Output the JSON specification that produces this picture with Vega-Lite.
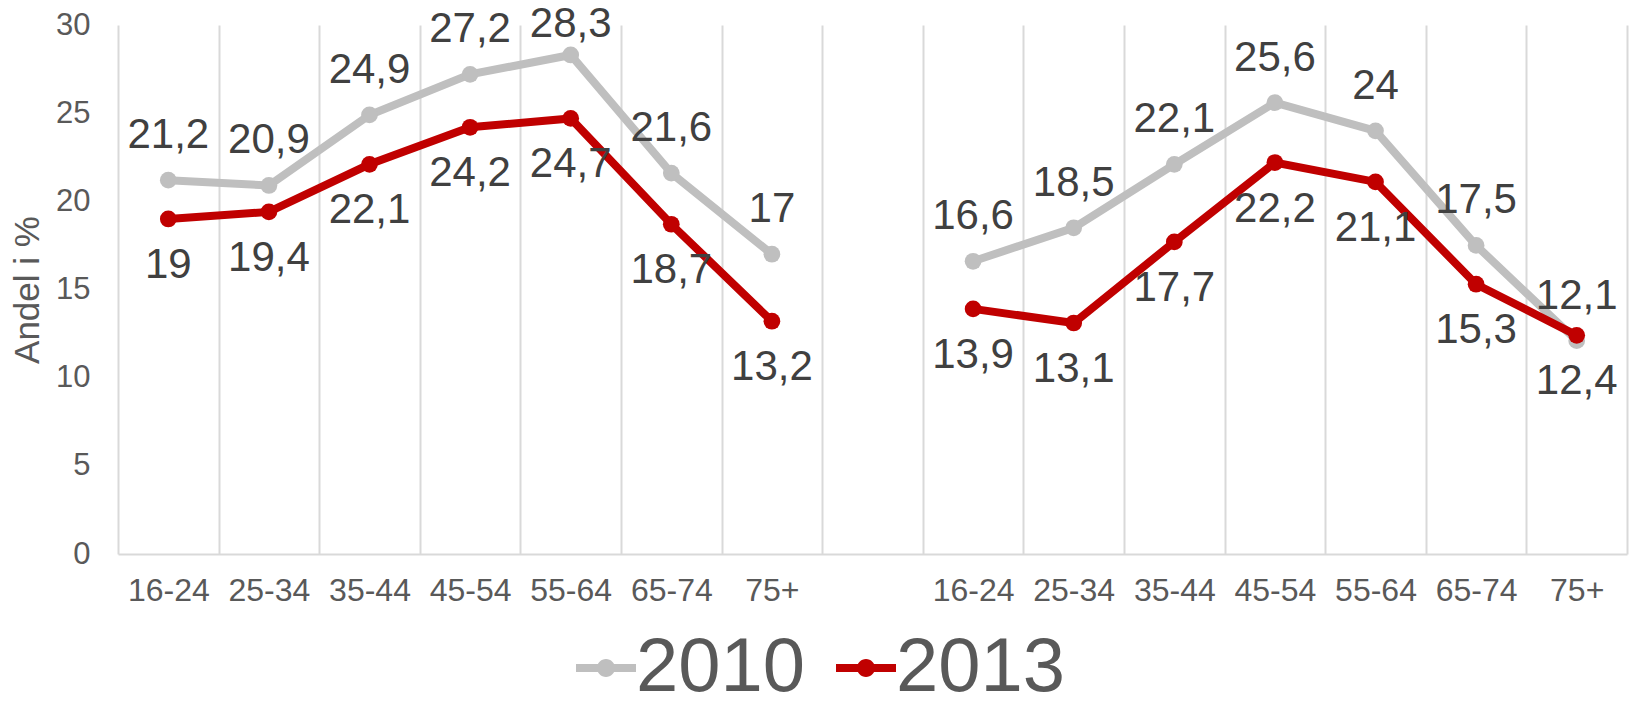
{
  "$schema": "https://vega.github.io/schema/vega-lite/v6.json",
  "width": 1509,
  "height": 529,
  "autosize": "none",
  "padding": {"left": 118, "top": 25, "right": 3, "bottom": 150},
  "config": {
    "font": "Liberation Sans",
    "view": {"stroke": null},
    "locale": {"number": {"decimal": ",", "thousands": " ", "grouping": [3], "currency": ["", " kr"]}}
  },
  "data": {
    "values": [
      {"cat": "L16-24", "panel": "L", "year": "2010", "value": 21.2},
      {"cat": "L25-34", "panel": "L", "year": "2010", "value": 20.9},
      {"cat": "L35-44", "panel": "L", "year": "2010", "value": 24.9},
      {"cat": "L45-54", "panel": "L", "year": "2010", "value": 27.2},
      {"cat": "L55-64", "panel": "L", "year": "2010", "value": 28.3},
      {"cat": "L65-74", "panel": "L", "year": "2010", "value": 21.6},
      {"cat": "L75+", "panel": "L", "year": "2010", "value": 17.0},
      {"cat": "R16-24", "panel": "R", "year": "2010", "value": 16.6},
      {"cat": "R25-34", "panel": "R", "year": "2010", "value": 18.5},
      {"cat": "R35-44", "panel": "R", "year": "2010", "value": 22.1},
      {"cat": "R45-54", "panel": "R", "year": "2010", "value": 25.6},
      {"cat": "R55-64", "panel": "R", "year": "2010", "value": 24.0},
      {"cat": "R65-74", "panel": "R", "year": "2010", "value": 17.5},
      {"cat": "R75+", "panel": "R", "year": "2010", "value": 12.1},
      {"cat": "L16-24", "panel": "L", "year": "2013", "value": 19.0},
      {"cat": "L25-34", "panel": "L", "year": "2013", "value": 19.4},
      {"cat": "L35-44", "panel": "L", "year": "2013", "value": 22.1},
      {"cat": "L45-54", "panel": "L", "year": "2013", "value": 24.2},
      {"cat": "L55-64", "panel": "L", "year": "2013", "value": 24.7},
      {"cat": "L65-74", "panel": "L", "year": "2013", "value": 18.7},
      {"cat": "L75+", "panel": "L", "year": "2013", "value": 13.2},
      {"cat": "R16-24", "panel": "R", "year": "2013", "value": 13.9},
      {"cat": "R25-34", "panel": "R", "year": "2013", "value": 13.1},
      {"cat": "R35-44", "panel": "R", "year": "2013", "value": 17.7},
      {"cat": "R45-54", "panel": "R", "year": "2013", "value": 22.2},
      {"cat": "R55-64", "panel": "R", "year": "2013", "value": 21.1},
      {"cat": "R65-74", "panel": "R", "year": "2013", "value": 15.3},
      {"cat": "R75+", "panel": "R", "year": "2013", "value": 12.4}
    ]
  },
  "encoding": {
    "x": {
      "field": "cat",
      "type": "ordinal",
      "scale": {
        "type": "band",
        "domain": ["L16-24", "L25-34", "L35-44", "L45-54", "L55-64", "L65-74", "L75+", "gap", "R16-24", "R25-34", "R35-44", "R45-54", "R55-64", "R65-74", "R75+"],
        "paddingInner": 0,
        "paddingOuter": 0
      },
      "axis": {
        "title": null,
        "labelExpr": "datum.label == 'gap' ? '' : substring(datum.label, 1)",
        "labelAngle": 0,
        "labelFontSize": 32,
        "labelColor": "#595959",
        "labelPadding": 21,
        "ticks": false,
        "tickBand": "extent",
        "grid": true,
        "gridColor": "#D9D9D9",
        "gridWidth": 2,
        "domainColor": "#D9D9D9",
        "domainWidth": 2
      }
    },
    "y": {
      "field": "value",
      "type": "quantitative",
      "scale": {"domain": [0, 30], "nice": false},
      "axis": {
        "values": [0, 5, 10, 15, 20, 25, 30],
        "grid": false,
        "domain": false,
        "ticks": false,
        "title": "Andel i %",
        "titleFontSize": 35,
        "titleFontWeight": "normal",
        "titleColor": "#595959",
        "titlePadding": 10,
        "labelFontSize": 31,
        "labelColor": "#595959",
        "labelPadding": 28
      }
    }
  },
  "layer": [
    {
      "mark": {"type": "line", "strokeWidth": 8},
      "encoding": {
        "detail": {"field": "panel", "type": "nominal"},
        "color": {
          "field": "year",
          "type": "nominal",
          "scale": {"domain": ["2010", "2013"], "range": ["#BFBFBF", "#C00000"]},
          "legend": {
            "title": null,
            "orient": "none",
            "legendX": 450,
            "legendY": 605,
            "direction": "horizontal",
            "labelFontSize": 76,
            "labelLimit": 600,
            "labelColor": "#595959",
            "symbolType": "M-1,-0.13H1V0.13H-1Z M0.3,0 A0.3,0.3 0 1,1 -0.3,0 A0.3,0.3 0 1,1 0.3,0 Z",
            "symbolSize": 3600,
            "symbolStrokeWidth": 0,
            "labelOffset": -8,
            "columnPadding": 22
          }
        }
      }
    },
    {
      "mark": {"type": "point", "filled": true, "size": 280, "opacity": 1},
      "encoding": {
        "color": {"field": "year", "type": "nominal"}
      }
    },
    {
      "transform": [{"filter": "datum.year == '2010' && datum.value < 28"}],
      "mark": {"type": "text", "dy": -45, "fontSize": 42, "color": "#404040", "baseline": "middle"},
      "encoding": {"text": {"field": "value", "type": "quantitative", "format": ".1~f"}}
    },
    {
      "transform": [{"filter": "datum.year == '2010' && datum.value >= 28"}],
      "mark": {"type": "text", "dy": -31, "fontSize": 42, "color": "#404040", "baseline": "middle"},
      "encoding": {"text": {"field": "value", "type": "quantitative", "format": ".1~f"}}
    },
    {
      "transform": [{"filter": "datum.year == '2013'"}],
      "mark": {"type": "text", "dy": 46, "fontSize": 42, "color": "#404040", "baseline": "middle"},
      "encoding": {"text": {"field": "value", "type": "quantitative", "format": ".1~f"}}
    }
  ]
}
